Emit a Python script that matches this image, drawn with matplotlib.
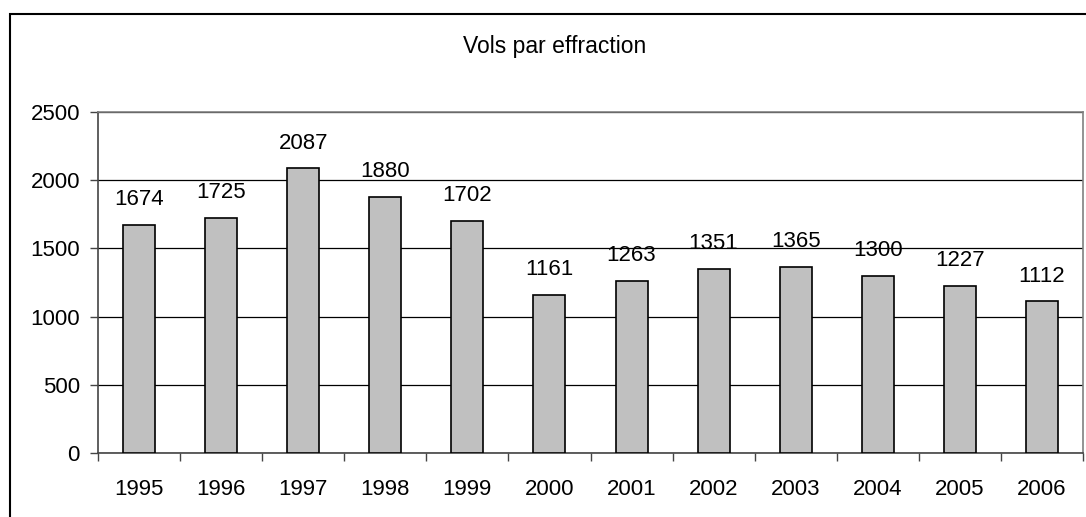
import numpy as np
import matplotlib.pyplot as plt
from matplotlib.patches import Rectangle
from matplotlib.ticker import FixedLocator

# Data
years = ['1995', '1996', '1997', '1998', '1999', '2000',
         '2001', '2002', '2003', '2004', '2005', '2006']
vols = [1674, 1725, 2087, 1880, 1702, 1161, 1263, 1351, 1365, 1300, 1227, 1112]
yticks = [0, 500, 1000, 1500, 2000, 2500]

plt.rcParams['font.family'] = ['Liberation Sans', 'DejaVu Sans']

fig = plt.figure(figsize=(10.86, 5.17), dpi=100)
W, H = 1086, 517

# outer chart frame (runs off the right and bottom edges)
fig.patches.append(Rectangle((10 / W, -0.1), 1.2, 1 - 14 / H + 0.1,
                             transform=fig.transFigure, fill=False,
                             edgecolor='black', linewidth=1.5))

ax = fig.add_axes([98 / W, 1 - 453 / H, (1083 - 98) / W, (453 - 112) / H])

x = np.arange(len(years))
ax.bar(x, vols, width=0.39, color='#c0c0c0', edgecolor='black', linewidth=1.2, zorder=3)

for xi, v in zip(x, vols):
    ax.annotate(str(v), (xi, v), xytext=(0, 18), textcoords='offset points',
                ha='center', va='center', fontsize=16)

ax.set_xlim(-0.5, len(years) - 0.5)
ax.set_ylim(0, 2500)
ax.set_yticks(yticks)
ax.yaxis.grid(True, color='black', linewidth=0.9, zorder=0)
ax.set_axisbelow(True)

# category labels centred, ticks between categories
ax.set_xticks(x)
ax.set_xticklabels(years, fontsize=16)
ax.xaxis.set_minor_locator(FixedLocator(np.arange(-0.5, len(years), 1.0)))
ax.tick_params(axis='x', which='major', length=0, pad=19)
ax.tick_params(axis='x', which='minor', length=6, width=1, color='#444444', direction='out')
ax.tick_params(axis='y', length=6, width=1, color='#444444', direction='out', pad=7, labelsize=16)

for side in ['top', 'right']:
    ax.spines[side].set_color('#808080')
    ax.spines[side].set_linewidth(1.2)
for side in ['left', 'bottom']:
    ax.spines[side].set_color('#444444')
    ax.spines[side].set_linewidth(1.2)

fig.text(555 / W, 1 - 47 / H, 'Vols par effraction', ha='center', va='center', fontsize=16.5)

fig.savefig('out.png', dpi=100)
